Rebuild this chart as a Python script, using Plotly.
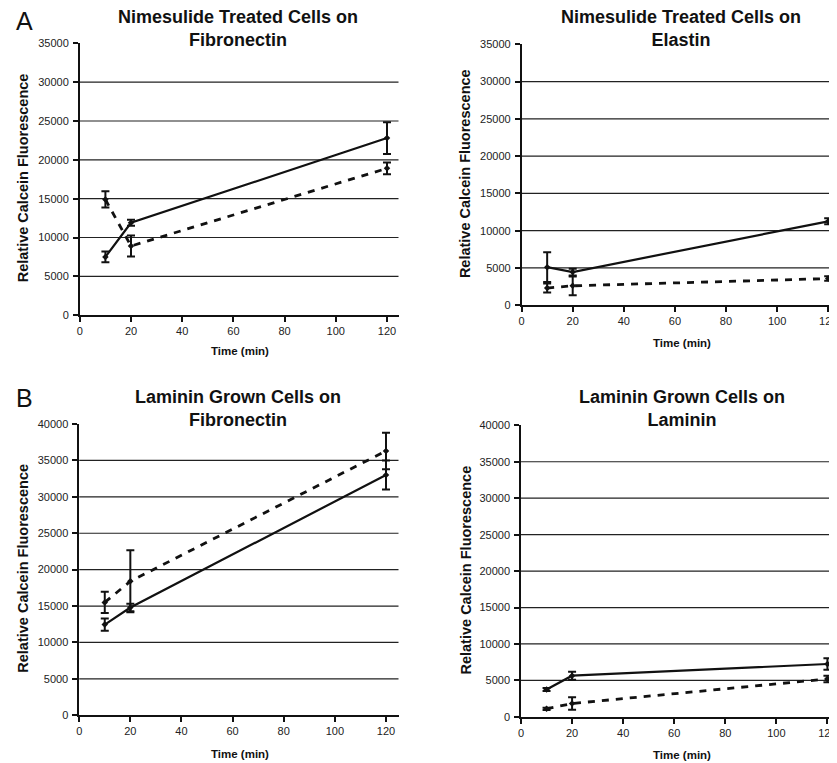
import plotly.graph_objects as go

# ---------------- data ----------------
time_min = [10, 20, 120]

# Panel A-left: Nimesulide treated cells on Fibronectin
a1_solid = [7500, 11900, 22800]
a1_solid_err = [700, 400, 2050]
a1_dash = [14900, 8900, 18900]
a1_dash_err = [1050, 1350, 750]

# Panel A-right: Nimesulide treated cells on Elastin
a2_solid = [5100, 4450, 11250]
a2_solid_err = [2000, 450, 400]
a2_dash = [2300, 2600, 3570]
a2_dash_err = [600, 1250, 300]

# Panel B-left: Laminin grown cells on Fibronectin
b1_solid = [12450, 14800, 33000]
b1_solid_err = [850, 500, 2000]
b1_dash = [15500, 18400, 36300]
b1_dash_err = [1450, 4250, 2500]

# Panel B-right: Laminin grown cells on Laminin
b2_solid = [3750, 5650, 7250]
b2_solid_err = [200, 550, 780]
b2_dash = [1100, 1830, 5200]
b2_dash_err = [150, 870, 450]

titles = [
    "Nimesulide Treated Cells on<br>Fibronectin",
    "Nimesulide Treated Cells on<br>Elastin",
    "Laminin Grown Cells on<br>Fibronectin",
    "Laminin Grown Cells on<br>Laminin",
]
x_ticks = [0, 20, 40, 60, 80, 100, 120]
y_ticks_a = [0, 5000, 10000, 15000, 20000, 25000, 30000, 35000]
y_ticks_b = [0, 5000, 10000, 15000, 20000, 25000, 30000, 35000, 40000]
y_title = "Relative Calcein Fluorescence"
x_title = "Time (min)"

# ---------------- layout geometry ----------------
W, H = 837, 763
FONT = "Liberation Sans, Arial, Helvetica, sans-serif"


def px(x):
    # target screen x -> paper fraction (page offset compensation)
    return (x - 8) / W


def py(y):
    # target screen y -> paper fraction (page offset/scale compensation)
    return 1 - ((y - 13.35) / 0.9858) / H


panels = [
    # target px: (x_left, x_right, y_bottom, y_top), xrange, yrange, yticks, data
    ((77.3, 398.3, 315.0, 42.7), [0, 124.5], [0, 35000], y_ticks_a,
     a1_solid, a1_solid_err, a1_dash, a1_dash_err),
    ((522.3, 837.0, 305.0, 43.7), [0, 122.3], [0, 35000], y_ticks_a,
     a2_solid, a2_solid_err, a2_dash, a2_dash_err),
    ((76.7, 398.3, 715.7, 424.0), [0, 124.9], [0, 40000], y_ticks_b,
     b1_solid, b1_solid_err, b1_dash, b1_dash_err),
    ((521.7, 837.0, 717.3, 425.3), [0, 122.6], [0, 40000], y_ticks_b,
     b2_solid, b2_solid_err, b2_dash, b2_dash_err),
]

title_pos = [(237, 28), (683, 28), (237, 408.5), (684, 408.5)]
xtitle_pos = [(239, 351), (684, 343), (239, 754), (684, 756)]
ytitle_pos = [(20, 177), (466, 173), (20, 568), (466, 570)]

fig = go.Figure()
shapes = []
annotations = []

for i, (box, xr, yr, yt, s, se, d, de) in enumerate(panels):
    n = "" if i == 0 else str(i + 1)
    xa, ya = "x" + n, "y" + n
    xl, xrr, yb, ytop = box
    common = dict(xaxis=xa, yaxis=ya, showlegend=False, hoverinfo="skip")
    fig.add_trace(go.Scatter(
        x=time_min, y=d, mode="lines+markers",
        line=dict(color="#111", width=2.8, dash="7px,7px"),
        marker=dict(symbol="diamond", size=5, color="#111"),
        error_y=dict(type="data", array=de, visible=True, color="#111",
                     thickness=2, width=4),
        **common))
    fig.add_trace(go.Scatter(
        x=time_min, y=s, mode="lines+markers",
        line=dict(color="#111", width=2.2),
        marker=dict(symbol="diamond", size=5, color="#111"),
        error_y=dict(type="data", array=se, visible=True, color="#111",
                     thickness=2, width=4),
        **common))

    fig.layout["xaxis" + n] = dict(
        domain=[px(xl), min(px(xrr), 1.0)], range=xr, anchor=ya,
        tickvals=x_ticks, tickformat="d",
        showgrid=False, zeroline=False, showline=True, linecolor="#111",
        linewidth=1.5, ticks="outside", ticklen=5, tickcolor="#111",
        tickwidth=1.5,
        tickfont=dict(family=FONT, size=11, color="#222"))
    fig.layout["yaxis" + n] = dict(
        domain=[py(yb), py(ytop)], range=yr, anchor=xa,
        tickvals=yt, tickformat="d",
        showgrid=False, zeroline=False, showline=True, linecolor="#111",
        linewidth=1.5, ticks="outside", ticklen=5, tickcolor="#111",
        tickwidth=1.5, ticklabelstandoff=2,
        tickfont=dict(family=FONT, size=11, color="#222"))

    # horizontal gridlines (all ticks except 0 and the top)
    for v in yt[1:-1]:
        shapes.append(dict(type="line", xref=xa + " domain", yref=ya,
                           x0=0, x1=1, y0=v, y1=v, layer="below",
                           line=dict(color="#222", width=1.2)))

    tx, ty = title_pos[i]
    annotations.append(dict(
        text="<b>" + titles[i].replace("<br>", "</b><br><b>") + "</b>",
        xref="paper", yref="paper", x=px(tx), y=py(ty),
        xanchor="center", yanchor="middle", showarrow=False,
        font=dict(family=FONT, size=18, color="#111"), align="center"))
    tx, ty = xtitle_pos[i]
    annotations.append(dict(
        text="<b>" + x_title + "</b>", xref="paper", yref="paper",
        x=px(tx), y=py(ty), xanchor="center", yanchor="middle",
        showarrow=False, font=dict(family=FONT, size=11.5, color="#111")))
    tx, ty = ytitle_pos[i]
    annotations.append(dict(
        text="<b>" + y_title + "</b>", xref="paper", yref="paper",
        x=px(tx), y=py(ty), textangle=-90,
        xanchor="center", yanchor="middle", showarrow=False,
        font=dict(family=FONT, size=14.5, color="#111")))

# panel letters
for letter, (lx, ly) in (("A", (22, 20)), ("B", (22, 398))):
    annotations.append(dict(text=letter, xref="paper", yref="paper",
                            x=px(lx), y=py(ly), xanchor="center",
                            yanchor="middle", showarrow=False,
                            font=dict(family=FONT, size=25, color="#111")))

fig.update_layout(
    width=W, height=H, margin=dict(l=0, r=0, t=0, b=0),
    paper_bgcolor="white", plot_bgcolor="white",
    shapes=shapes, annotations=annotations,
    font=dict(family=FONT, color="#111"),
)

fig.write_html("out.html")
